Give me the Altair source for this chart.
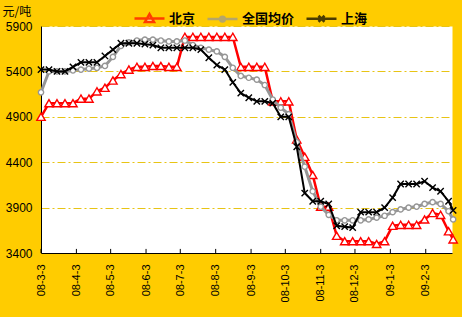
import altair as alt
import pandas as pd

# ---- data ----
dates = [d.strftime("%Y-%m-%dT00:00:00") for d in pd.date_range("2008-03-03", periods=52, freq="7D")] + ["2009-02-27T00:00:00"]

series_names = ["北京", "全国均价", "上海"]
series_colors = ["#FF0000", "#969696", "#000000"]

beijing = [4900, 5050, 5050, 5050, 5050, 5100, 5100, 5180, 5220, 5300, 5370, 5420, 5450, 5450,
           5460, 5460, 5450, 5450, 5780, 5780, 5780, 5780, 5780, 5780, 5780, 5450, 5450, 5450,
           5450, 5070, 5070, 5070, 4650, 4460, 4260, 3910, 3910, 3590, 3530, 3530, 3530, 3530,
           3500, 3530, 3700, 3710, 3710, 3710, 3770, 3840, 3820, 3640, 3550]
national = [5170, 5400, 5400, 5400, 5410, 5420, 5430, 5440, 5460, 5560, 5680, 5720, 5740, 5750,
            5750, 5740, 5730, 5730, 5740, 5690, 5660, 5640, 5620, 5560, 5440, 5350, 5330, 5310,
            5250, 5090, 5000, 4930, 4620, 4350, 4080, 3910, 3820, 3760, 3760, 3760, 3760, 3770,
            3790, 3810, 3850, 3880, 3900, 3910, 3940, 3960, 3940, 3860, 3770]
shanghai = [5420, 5420, 5400, 5400, 5450, 5500, 5500, 5500, 5570, 5640, 5710, 5710, 5710, 5700,
            5690, 5660, 5660, 5660, 5660, 5660, 5640, 5550, 5470, 5420, 5280, 5160, 5110, 5070,
            5070, 5050, 4900, 4900, 4570, 4060, 3970, 3970, 3940, 3700, 3690, 3680, 3850, 3850,
            3850, 3900, 4010, 4160, 4160, 4160, 4190, 4120, 4080, 3970, 3870]

tick_months = [(2008, 3), (2008, 4), (2008, 5), (2008, 6), (2008, 7), (2008, 8), (2008, 9),
               (2008, 10), (2008, 11), (2008, 12), (2009, 1), (2009, 2)]
y_ticks = [3400, 3900, 4400, 4900, 5400, 5900]

# ---- tables ----
rows = []
for name, vals in zip(series_names, [beijing, national, shanghai]):
    for d, v in zip(dates, vals):
        rows.append({"date": d, "series": name, "price": v})
df = pd.DataFrame(rows)
ticks_df = pd.DataFrame({"date": [f"{y}-{m:02d}-03T00:00:00" for y, m in tick_months]})

tick_values = [alt.DateTime(year=y, month=m, date=3) for y, m in tick_months]

x_scale = alt.Scale(domain=[alt.DateTime(year=2008, month=3, date=3),
                            alt.DateTime(year=2009, month=2, date=26)])
y_scale = alt.Scale(domain=[3400, 5900], nice=False, zero=False)

x_axis = alt.Axis(values=tick_values, format="%y-%-m-%-d", labelAngle=270,
                  labelFont="Liberation Sans", labelFontSize=11, labelColor="black",
                  labelPadding=11, ticks=False, grid=False, domainColor="black",
                  domainWidth=1, title=None, labelOverlap=False)
y_axis = alt.Axis(values=y_ticks, format="d", title="元/吨", titleAngle=0, titleX=-39, titleY=-11,
                  titleAlign="left", titleBaseline="alphabetic",
                  titleFont="Noto Sans CJK SC", titleFontSize=12, titleFontWeight="normal",
                  titleColor="black", labelFont="Liberation Sans", labelFontSize=12,
                  labelColor="black", labelPadding=9, ticks=False, domainColor="black",
                  domainWidth=1, grid=True, gridColor="#E8C414", gridDash=[8, 3, 2, 3],
                  gridWidth=1)

X = alt.X("date:T", scale=x_scale, axis=x_axis)
Y = alt.Y("price:Q", scale=y_scale, axis=y_axis)

# legend symbols: short line with the series marker
leg_paths = [
    "M-1,0H1M0,-0.3L0.3,0.22L-0.3,0.22Z",
    "M-1,0H1M0.16,0A0.16,0.16 0 1 1 -0.16,0A0.16,0.16 0 1 1 0.16,0",
    "M-1,0H1M-0.2,-0.2L0.2,0.2M-0.2,0.2L0.2,-0.2",
]

legend_props = dict(
    orient="none", legendX=92, legendY=-24, direction="horizontal", title=None,
    labelFont="Noto Sans CJK SC", labelFontSize=13, labelFontWeight="bold",
    labelColor="black", symbolSize=900, symbolStrokeWidth=2.5, labelOffset=3,
    columnPadding=6, padding=0, symbolFillColor="white",
)

marker_shapes = ["triangle-up", "circle", "M-1,-1L1,1M-1,1L1,-1"]
marker_sizes = [70, 28, 40]
line_widths = [2.5, 3, 2]

layers = []
for name, col, shp, sz, lw in zip(series_names, series_colors, marker_shapes, marker_sizes, line_widths):
    base = alt.Chart(df).transform_filter(alt.datum.series == name)
    layers.append(base.mark_line(strokeWidth=lw, stroke=col, clip=False).encode(x=X, y=Y))
    layers.append(base.mark_point(shape=shp, size=sz, filled=True, fill="white", stroke=col,
                                  strokeWidth=1.4, opacity=1, clip=False).encode(x=X, y=Y))

# legend-only layer (no rows drawn)
legend_layer = alt.Chart(df).transform_filter("false").mark_point(
    filled=True, fill="white", strokeWidth=2.5).encode(
    x=X, y=Y,
    stroke=alt.Stroke("series:N", scale=alt.Scale(domain=series_names, range=series_colors),
                      legend=alt.Legend(**legend_props)),
    shape=alt.Shape("series:N", scale=alt.Scale(domain=series_names, range=leg_paths),
                    legend=alt.Legend(**legend_props)),
)

tick_layer = alt.Chart(ticks_df).mark_rule(color="black", strokeWidth=1).encode(
    x=X, y=alt.datum(3400), y2=alt.datum(3445))

chart = alt.layer(tick_layer, *layers, legend_layer).properties(
    width=411, height=227, background="#FFCC00",
    padding={"left": 41, "top": 26, "right": 10, "bottom": 64},
    autosize=alt.AutoSizeParams(type="none"),
).configure_view(fill="white", stroke="transparent")

chart.save("out.html", embed_options={"renderer": "svg", "actions": False})
